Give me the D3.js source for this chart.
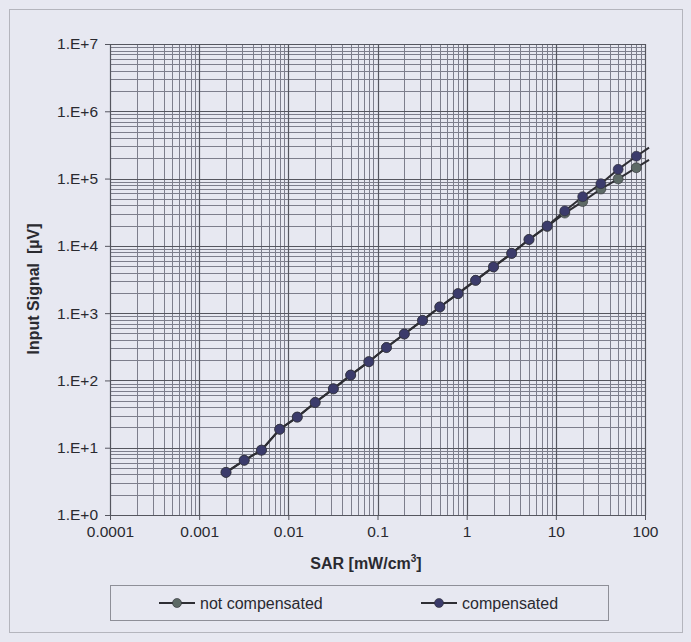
<!DOCTYPE html>
<html>
<head>
<meta charset="utf-8">
<script src="https://cdn.jsdelivr.net/npm/d3@7"></script>
<style>
    body { margin: 0; background: #e7e8f1; }
    svg { display: block; font-family: 'Liberation Sans', Arial, sans-serif; }
</style>
</head>
<body>
<div id="chart"></div>
<script>
// SAR [mW/cm3] of every measured point
const sar = [0.002, 0.0032, 0.005, 0.008, 0.0126, 0.02, 0.032, 0.05, 0.08, 0.126,
    0.2, 0.32, 0.5, 0.8, 1.26, 2, 3.2, 5, 8, 12.6, 20, 32, 50, 80];

// input signal [uV]
const notCompensated = [4.3, 6.5, 9.2, 18.8, 28.5, 47, 75, 120, 190, 308,
    490, 780, 1235, 1950, 3070, 4870, 7730, 12400, 19400, 30700, 45500, 70000, 99000, 145000];
const compensated = [4.3, 6.5, 9.2, 18.8, 28.5, 47, 75, 120, 190, 308,
    490, 780, 1235, 1950, 3070, 4870, 7730, 12450, 19730, 33000, 53800, 84000, 137000, 215000];

// the lines run on a little past the last marker
const tailSar = [111];
const tailNotCompensated = [190000];
const tailCompensated = [288000];

const xTicks = [0.0001, 0.001, 0.01, 0.1, 1, 10, 100];
const xTickLabels = ['0.0001', '0.001', '0.01', '0.1', '1', '10', '100'];
const yTicks = [1, 10, 100, 1e3, 1e4, 1e5, 1e6, 1e7];
const yTickLabels = ['1.E+0', '1.E+1', '1.E+2', '1.E+3', '1.E+4', '1.E+5', '1.E+6', '1.E+7'];

const seriesNames = ['not compensated', 'compensated'];
const seriesColors = ['#5d6a66', '#3b3b6b'];

const dimensions = {
    width: 691,
    height: 642,
    left: 110,
    right: 645,
    top: 44,
    bottom: 515,
};

const svg = d3.select('#chart')
    .append('svg')
    .attr('width', dimensions.width)
    .attr('height', dimensions.height);

// outer frame
svg.append('rect')
    .attr('x', 9.5).attr('y', 9.5)
    .attr('width', 673).attr('height', 623)
    .attr('fill', '#e7e8f1')
    .attr('stroke', '#b4b5bd');

const xScale = d3.scaleLog()
    .domain([0.0001, 100])
    .range([dimensions.left, dimensions.right]);

const yScale = d3.scaleLog()
    .domain([1, 1e7])
    .range([dimensions.bottom, dimensions.top]);

/* grid: minor lines first, then decades */
const minorX = [];
for (let i = 0; i < xTicks.length - 1; i++) {
    for (let m = 2; m <= 9; m++) minorX.push(xTicks[i] * m);
}
const minorY = [];
for (let i = 0; i < yTicks.length - 1; i++) {
    for (let m = 2; m <= 9; m++) minorY.push(yTicks[i] * m);
}

const grid = svg.append('g');

grid.selectAll('.minor-x')
    .data(minorX)
    .join('line')
    .attr('x1', d => Math.round(xScale(d)) + 0.5)
    .attr('x2', d => Math.round(xScale(d)) + 0.5)
    .attr('y1', dimensions.top)
    .attr('y2', dimensions.bottom)
    .attr('stroke', '#7d7e8c')
    .attr('stroke-width', 1);

grid.selectAll('.minor-y')
    .data(minorY)
    .join('line')
    .attr('y1', d => Math.round(yScale(d)) + 0.5)
    .attr('y2', d => Math.round(yScale(d)) + 0.5)
    .attr('x1', dimensions.left)
    .attr('x2', dimensions.right)
    .attr('stroke', '#7d7e8c')
    .attr('stroke-width', 1);

grid.selectAll('.major-x')
    .data(xTicks)
    .join('line')
    .attr('x1', d => Math.round(xScale(d)) + 0.5)
    .attr('x2', d => Math.round(xScale(d)) + 0.5)
    .attr('y1', dimensions.top)
    .attr('y2', dimensions.bottom)
    .attr('stroke', '#55565f')
    .attr('stroke-width', 1.2);

grid.selectAll('.major-y')
    .data(yTicks)
    .join('line')
    .attr('y1', d => Math.round(yScale(d)) + 0.5)
    .attr('y2', d => Math.round(yScale(d)) + 0.5)
    .attr('x1', dimensions.left)
    .attr('x2', dimensions.right)
    .attr('stroke', '#55565f')
    .attr('stroke-width', 1.2);

// --------------- axes ---------------------------------------
const xAxis = d3.axisBottom(xScale)
    .tickValues(xTicks)
    .tickSize(5)
    .tickPadding(6)
    .tickFormat((d, i) => xTickLabels[i]);

const gXAxis = svg.append('g')
    .attr('transform', `translate(0, ${dimensions.bottom})`)
    .call(xAxis);

const yAxis = d3.axisLeft(yScale)
    .tickValues(yTicks)
    .tickSize(5)
    .tickPadding(7)
    .tickFormat((d, i) => yTickLabels[i]);

const gYAxis = svg.append('g')
    .attr('transform', `translate(${dimensions.left}, 0)`)
    .call(yAxis);

[gXAxis, gYAxis].forEach(g => {
    g.select('.domain').attr('stroke', '#55565f');
    g.selectAll('.tick line').attr('stroke', '#55565f');
    g.selectAll('.tick text')
        .attr('fill', '#2a2a30')
        .attr('font-size', 15.5)
        .attr('font-family', "'Liberation Sans', Arial, sans-serif");
});

/* axis titles */
const xTitle = svg.append('text')
    .attr('x', 366)
    .attr('y', 569)
    .attr('text-anchor', 'middle')
    .attr('font-size', 16)
    .attr('font-weight', 'bold')
    .attr('fill', '#2a2a30');
xTitle.append('tspan').text('SAR [mW/cm');
xTitle.append('tspan').attr('dy', -7).attr('font-size', 10).text('3');
xTitle.append('tspan').attr('dy', 7).text(']');

svg.append('text')
    .attr('transform', 'rotate(-90)')
    .attr('x', -289)
    .attr('y', 39)
    .attr('text-anchor', 'middle')
    .attr('font-size', 16)
    .attr('font-weight', 'bold')
    .attr('fill', '#2a2a30')
    .attr('xml:space', 'preserve')
    .text('Input Signal  [\u00b5V]');

// --------------- series ---------------------------------------
const lineGenerator = d3.line()
    .x(d => xScale(d[0]))
    .y(d => yScale(d[1]));

const series = [
    { values: notCompensated, tail: tailNotCompensated },
    { values: compensated, tail: tailCompensated },
];

series.forEach((s, k) => {
    const pts = sar.map((x, i) => [x, s.values[i]])
        .concat(tailSar.map((x, i) => [x, s.tail[i]]));

    svg.append('path')
        .datum(pts)
        .attr('d', lineGenerator)
        .attr('fill', 'none')
        .attr('stroke', '#2e2e34')
        .attr('stroke-width', 2);
});

series.forEach((s, k) => {
    svg.append('g')
        .selectAll('circle')
        .data(sar)
        .join('circle')
        .attr('cx', d => xScale(d))
        .attr('cy', (d, i) => yScale(s.values[i]))
        .attr('r', 5)
        .attr('fill', seriesColors[k])
        .attr('stroke', '#2e2e34')
        .attr('stroke-width', 0.6);
});

// --------------- legend ---------------------------------------
svg.append('rect')
    .attr('x', 110.5).attr('y', 585.5)
    .attr('width', 498).attr('height', 35)
    .attr('fill', '#e7e8f1')
    .attr('stroke', '#8e8f98');

const legendX = [159, 421];
seriesNames.forEach((name, k) => {
    const g = svg.append('g').attr('transform', `translate(${legendX[k]}, 603)`);
    g.append('line')
        .attr('x1', 0).attr('x2', 36)
        .attr('stroke', '#2e2e34')
        .attr('stroke-width', 2);
    g.append('circle')
        .attr('cx', 18)
        .attr('r', 4.5)
        .attr('fill', seriesColors[k])
        .attr('stroke', '#2e2e34')
        .attr('stroke-width', 0.6);
    g.append('text')
        .attr('x', 41)
        .attr('y', 5.5)
        .attr('font-size', 16)
        .attr('fill', '#2a2a30')
        .text(name);
});
</script>
</body>
</html>
